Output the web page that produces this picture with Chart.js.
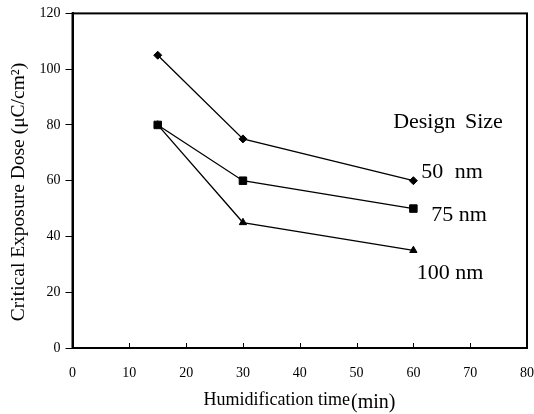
<!DOCTYPE html>
<html>
<head>
<meta charset="utf-8">
<script src="https://cdn.jsdelivr.net/npm/chart.js@4/dist/chart.umd.min.js"></script>
<style>
  html, body { margin: 0; padding: 0; background: #fff; }
  #wrap { width: 534px; height: 414px; }
</style>
</head>
<body>
<div id="wrap"><canvas id="grafik"></canvas></div>
<script>
// data
const waktu = [15, 30, 60];
const dosis50 = [105, 75, 60];
const dosis75 = [80, 60, 50];
const dosis100 = [80, 45, 35];
const xTicks = [0, 10, 20, 30, 40, 50, 60, 70, 80];
const yTicks = [0, 20, 40, 60, 80, 100, 120];

const serif = "'Liberation Serif', 'Times New Roman', serif";

function titik(ys) {
    return waktu.map((t, i) => ({ x: t, y: ys[i] }));
}

function seri(label, ys, shape, r) {
    return {
        label: label,
        data: titik(ys),
        showLine: true,
        borderColor: '#000',
        backgroundColor: '#000',
        borderWidth: 1.3,
        pointStyle: shape,
        pointRadius: r,
        pointHoverRadius: r,
        pointBackgroundColor: '#000',
        pointBorderColor: '#000',
        pointBorderWidth: 1,
        tension: 0
    };
}

function teks(c, s, x, y, spasi) {
    if ('wordSpacing' in c) c.wordSpacing = spasi + 'px';
    c.fillText(s, x, y);
    if ('wordSpacing' in c) c.wordSpacing = '0px';
}

// kotak plot + tick x ke dalam + teks label
const hiasan = {
    id: 'hiasan',
    afterDraw(chart) {
        const c = chart.ctx;
        const a = chart.chartArea;
        const sx = chart.scales.x;
        c.save();
        c.strokeStyle = '#000';
        c.lineWidth = 2;
        c.strokeRect(a.left, a.top, a.right - a.left, a.bottom - a.top);
        c.lineWidth = 1;
        xTicks.slice(1, -1).forEach(v => {
            const px = Math.round(sx.getPixelForValue(v)) + 0.5;
            c.beginPath();
            c.moveTo(px, a.bottom);
            c.lineTo(px, a.bottom - 5);
            c.stroke();
        });
        c.fillStyle = '#000';
        c.textAlign = 'center';
        c.textBaseline = 'middle';
        c.font = '22px ' + serif;
        teks(c, 'Design Size', 448, 122, 4);
        teks(c, '50 nm', 452, 172, 6);
        teks(c, '75 nm', 459, 215, 0);
        teks(c, '100 nm', 450, 273, 0);
        // judul sumbu y
        c.save();
        c.translate(19, 192);
        c.rotate(-Math.PI / 2);
        c.font = '19.5px ' + serif;
        c.fillText('Critical Exposure Dose (μC/cm²)', 0, 0);
        c.restore();
        // judul sumbu x
        c.textAlign = 'left';
        c.textBaseline = 'alphabetic';
        c.font = '18px ' + serif;
        const t1 = 'Humidification time';
        const w1 = c.measureText(t1).width;
        c.font = '20px ' + serif;
        const t2 = '(min)';
        const w2 = c.measureText(t2).width;
        const x0 = 299 - (w1 + w2) / 2;
        c.font = '18px ' + serif;
        c.fillText(t1, x0, 405);
        c.font = '20px ' + serif;
        c.fillText(t2, x0 + w1 + 1, 408);
        c.restore();
    }
};

new Chart(document.getElementById('grafik'), {
    type: 'scatter',
    data: {
        datasets: [
            seri('50 nm', dosis50, 'rectRot', 4),
            seri('75 nm', dosis75, 'rect', 5.3),
            seri('100 nm', dosis100, 'triangle', 4.2)
        ]
    },
    options: {
        responsive: true,
        maintainAspectRatio: false,
        animation: false,
        layout: { padding: { left: 0, top: 12, right: 0, bottom: 0 } },
        plugins: {
            legend: { display: false },
            tooltip: { enabled: false }
        },
        scales: {
            x: {
                type: 'linear',
                min: 0,
                max: 80,
                afterBuildTicks: s => { s.ticks = xTicks.map(v => ({ value: v })); },
                afterFit: s => {
                    s.height = 66;
                    s.paddingLeft = 0;
                    s.paddingRight = 7;
                },
                grid: { display: false, drawTicks: false },
                border: { display: true, color: '#000', width: 2 },
                ticks: {
                    color: '#000',
                    padding: 17,
                    font: { family: serif, size: 14 }
                },
                title: { display: false }
            },
            y: {
                min: 0,
                max: 120,
                afterBuildTicks: s => { s.ticks = yTicks.map(v => ({ value: v })); },
                afterFit: s => { s.width = 72.5; },
                grid: {
                    drawOnChartArea: false,
                    drawTicks: true,
                    tickLength: 7,
                    color: '#000',
                    lineWidth: 1
                },
                border: { display: true, color: '#000', width: 2 },
                ticks: {
                    color: '#000',
                    padding: 5,
                    font: { family: serif, size: 14 }
                },
                title: { display: false }
            }
        }
    },
    plugins: [hiasan]
});
</script>
</body>
</html>
